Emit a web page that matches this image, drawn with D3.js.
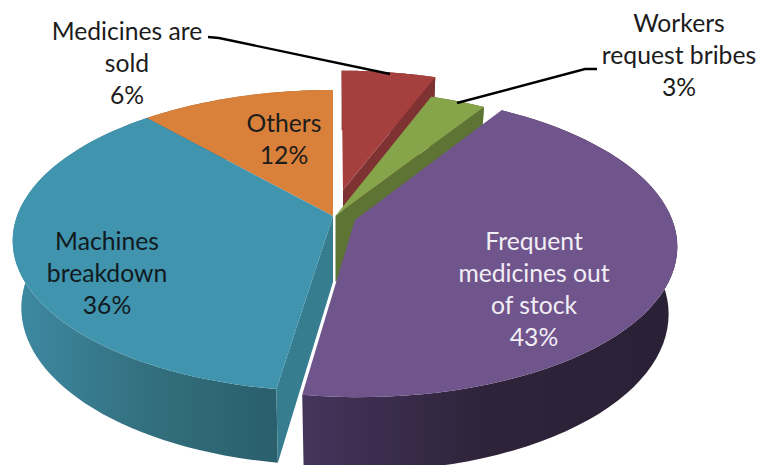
<!DOCTYPE html>
<html>
<head>
<meta charset="utf-8">
<script src="https://cdn.jsdelivr.net/npm/d3@7"></script>
<style>
  html, body { margin: 0; padding: 0; background: #fff; }
  svg { display: block; }
  text { font-family: Lato, "Open Sans", sans-serif; font-size: 24.7px; }
</style>
</head>
<body>
<div class="chart"></div>
<script>
// clockwise from 12 o'clock, slice sizes (labels show them rounded)
const categories = ['Medicines are sold', 'Workers request bribes', 'Frequent medicines out of stock', 'Machines breakdown', 'Others'];
const values = [5.7, 3.3, 43.4, 36.1, 11.5];
const labelLines = [['Medicines are', 'sold'], ['Workers', 'request bribes'], ['Frequent', 'medicines out', 'of stock'], ['Machines', 'breakdown'], ['Others']];

const width = 759, height = 465;
const cx = 333, cy = 216;      // pie centre on screen
const R = 316, tilt = 146.7;   // radius across, radius squashed in depth
const persp = 0.164;           // how much the far side shrinks
const depth = 66, shrink = 0.973;

const topColors = ['#a5403f', '#86a44a', '#70548c', '#4094ae', '#d9803a'];
const sideColors = ['#7e3231', '#5e7434', '#43325a', '#367d90', '#9c5c28'];
const wallStops = [null, null, ['#45345c', '#2e2339', '#2b2136'], ['#3e8aa3', '#33707f', '#2a5f6c'], null];
// slice pulled out of the pie, in pie units (right, back)
const explode = [[0.0325, 0.183], [0.008, 0.002], [0.069, -0.027], [0, 0], [0, 0]];
const labelPos = [[127, 31], [679, 23], [534, 241], [107, 241], [284, 123]];
const labelColors = ['#1c1c1c', '#1c1c1c', '#f1eef5', '#111a20', '#1c1c1c'];
const leaders = [[[208, 37], [219, 38], [390, 74]], [[597, 69], [585, 69], [457, 103]]];

const svg = d3.select('.chart').append('svg').attr('width', width).attr('height', height);
const defs = svg.append('defs');

const arcs = d3.pie().sort(null).value(d => d)(values);
const line = d3.line();

// pie plane -> screen
function project(i, r, a) {
  const [ex, ey] = explode[i];
  const x = ex + r * Math.sin(a), y = ey + r * Math.cos(a);
  const s = 1 / (1 + persp * y);
  return { x: cx + R * x * s, y: cy - tilt * y * s, s };
}
// same point on the bottom of the pie
function below(i, p) {
  const ax = project(i, 0, 0).x;
  return { x: ax + (p.x - ax) * shrink, y: p.y + depth * (1 + 0.6 * (p.s - 1)) };
}
const xy = p => [p.x, p.y];

function rim(i) {
  const { startAngle: a0, endAngle: a1 } = arcs[i];
  return d3.range(0, 61).map(k => project(i, 1, a0 + (a1 - a0) * k / 60));
}

wallStops.forEach((stops, i) => {
  if (!stops) return;
  const xs = rim(i).map(p => p.x);
  const g = defs.append('linearGradient').attr('id', 'wall' + i)
    .attr('gradientUnits', 'userSpaceOnUse')
    .attr('x1', d3.min(xs)).attr('x2', d3.max(xs)).attr('y1', 0).attr('y2', 0);
  stops.forEach((c, k) => g.append('stop').attr('offset', k / (stops.length - 1)).attr('stop-color', c));
});

// painter's order: back slices first, purple last
[4, 0, 1, 3, 2].forEach(i => {
  const g = svg.append('g');
  const pts = rim(i);
  const apex = project(i, 0, 0);

  // outer wall
  g.append('path')
    .attr('d', line([...pts.map(xy), ...pts.map(p => xy(below(i, p))).reverse()]) + 'Z')
    .attr('fill', wallStops[i] ? `url(#wall${i})` : sideColors[i]);

  // cut wall on the clockwise end for the two small slices, on the counter end of blue
  const end = i === 3 ? pts[0] : pts[pts.length - 1];
  if (i !== 2 && i !== 4) {
    g.append('path')
      .attr('d', line([xy(apex), xy(end), xy(below(i, end)), xy(below(i, apex))]) + 'Z')
      .attr('fill', sideColors[i]);
  }

  // top face
  g.append('path')
    .attr('d', line([xy(apex), ...pts.map(xy)]) + 'Z')
    .attr('fill', topColors[i]);
});

leaders.forEach(pts => {
  svg.append('path').attr('d', line(pts))
    .attr('fill', 'none').attr('stroke', '#000').attr('stroke-width', 2.4);
});

const lineGap = 32;
categories.forEach((name, i) => {
  const lines = [...labelLines[i], Math.round(values[i]) + '%'];
  lines.forEach((t, k) => {
    svg.append('text')
      .attr('x', labelPos[i][0])
      .attr('y', labelPos[i][1] + k * lineGap)
      .attr('dy', '0.35em')
      .attr('text-anchor', 'middle')
      .attr('fill', labelColors[i])
      .text(t);
  });
});
</script>
</body>
</html>
